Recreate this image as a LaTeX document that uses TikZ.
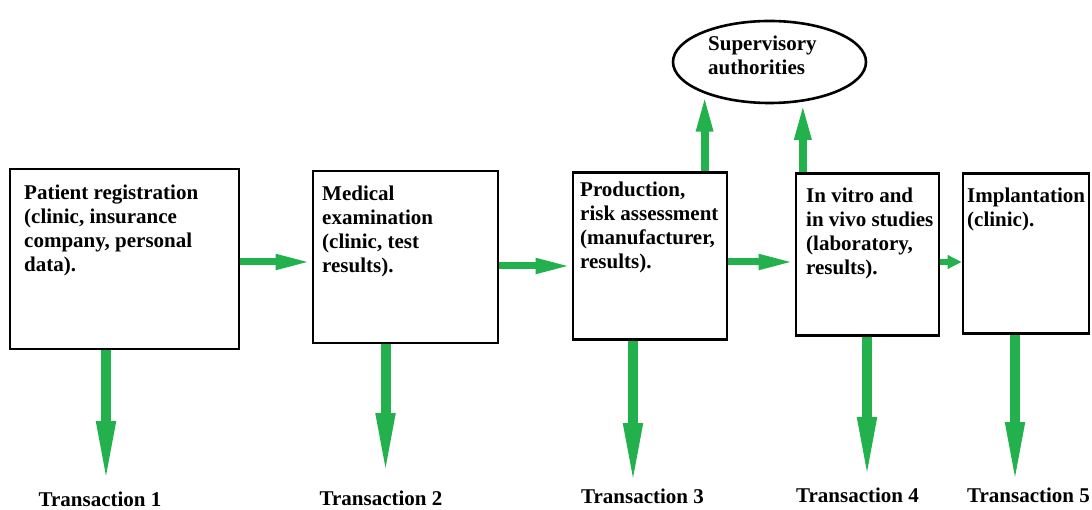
\documentclass[tikz,border=0pt]{standalone}
\usepackage{fontspec}
\setmainfont{Liberation Serif}
\usetikzlibrary{arrows.meta,shapes.geometric}
\definecolor{agreen}{HTML}{22B14C}
\begin{document}
\begin{tikzpicture}[x=1pt,y=-1pt,
  box/.style={draw, line width=2.6pt, inner sep=0pt, rectangle},
  txt/.style={anchor=base west, align=left, inner sep=0pt, font=\fontsize{21}{24}\selectfont\bfseries},
  ttxt/.style={anchor=base, inner sep=0pt, font=\fontsize{21}{24}\selectfont\bfseries},
  harr/.style={draw=agreen, line width=7pt, -{Triangle[length=36pt,width=14pt]}},
  sharr/.style={draw=agreen, line width=6pt, -{Triangle[length=14pt,width=13pt]}},
  uarr/.style={draw=agreen, line width=8pt, -{Triangle[length=38pt,width=15pt]}},
  darr/.style={draw=agreen, line width=10pt, -{Triangle[length=68pt,width=17pt]}}
]
\useasboundingbox (0,0) rectangle (1092,510);
\fill[white] (0,0) rectangle (1092,510);

% boxes
\node[box, minimum width=229pt, minimum height=180pt] (b1) at (124.5,259) {};
\node[box, minimum width=185pt, minimum height=172pt] (b2) at (405.5,257) {};
\node[box, minimum width=154pt, minimum height=167pt] (b3) at (650,256) {};
\node[box, minimum width=143pt, minimum height=162pt] (b4) at (867.5,254.5) {};
\node[box, minimum width=126pt, minimum height=160pt] (b5) at (1026,253.5) {};
\node[draw, ellipse, line width=2.6pt, inner sep=0pt, minimum width=193pt, minimum height=82pt] (sup) at (769.5,62) {};

% box texts (base anchor = baseline of the last line)
\node[txt] (t1) at (24,272) {Patient registration\\(clinic, insurance\\company, personal\\data).};
\node[txt] (t2) at (322,273) {Medical\\examination\\(clinic, test\\results).};
\node[txt] (t3) at (580,269) {Production,\\risk assessment\\(manufacturer,\\results).};
\node[txt] (t4) at (806,275) {In vitro and\\in vivo studies\\(laboratory,\\results).};
\node[txt] (t5) at (967,227) {Implantation\\(clinic).};
\node[txt] (tsup) at (708,75) {Supervisory\\authorities};

% transaction labels
\node[ttxt] (tr1) at (100,506) {Transaction 1};
\node[ttxt] (tr2) at (381,505) {Transaction 2};
\node[ttxt] (tr3) at (642.5,503) {Transaction 3};
\node[ttxt] (tr4) at (857.5,502) {Transaction 4};
\node[ttxt] (tr5) at (1028.5,502) {Transaction 5};

% arrow end coordinates
\coordinate (h1) at (0,262);
\coordinate (h2) at (0,266);
\coordinate (h3) at (0,262);
\coordinate (h4) at (0,262);
\coordinate (d1) at (106,489);
\coordinate (d2) at (385.5,481);
\coordinate (d3) at (633,491);
\coordinate (d4) at (867,485);
\coordinate (d5) at (1015,490);

% horizontal arrows
\draw[harr] (b1.east |- h1) -- (b2.west |- h1);
\draw[harr] (b2.east |- h2) -- (b3.west |- h2);
\draw[harr] (b3.east |- h3) -- (b4.west |- h3);
\draw[sharr] (b4.east |- h4) -- (b5.west |- h4);

% up arrows
\draw[uarr] (b3.north -| sup.206) -- (sup.206);
\draw[uarr] (b4.north -| sup.310) -- (sup.310);

% down arrows
\draw[darr] (b1.south -| d1) -- (d1);
\draw[darr] (b2.south -| d2) -- (d2);
\draw[darr] (b3.south -| d3) -- (d3);
\draw[darr] (b4.south -| d4) -- (d4);
\draw[darr] (b5.south -| d5) -- (d5);
\end{tikzpicture}
\end{document}
